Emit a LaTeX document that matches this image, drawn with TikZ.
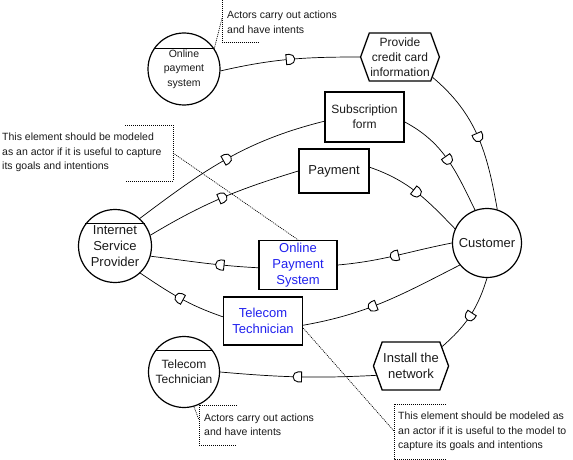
\documentclass[tikz,border=0pt]{standalone}
\usepackage{fontspec}
\setmainfont{Liberation Sans}
\usetikzlibrary{shapes.symbols,decorations.markings}

\definecolor{txt}{HTML}{1A1A1A}
\definecolor{bluetxt}{HTML}{2020EE}
\newcommand{\bigtxt}{\fontsize{13}{16}\selectfont}
\newcommand{\midtxt}{\fontsize{12}{15}\selectfont}
\newcommand{\smalltxt}{\fontsize{10.5}{14.5}\selectfont}
% the D of a dependency, round side forward
\newcommand{\dsym}{\draw[fill=white,line width=0.9pt] (-3.5pt,-5pt) -- (-3.5pt,5pt) -- (0pt,5pt) arc[start angle=90,end angle=-90,radius=5pt] -- cycle;}

\begin{document}
\begin{tikzpicture}[x=1pt,y=1pt,
	actor/.style={circle,draw,line width=1.2pt,inner sep=0pt,align=center,text=txt},
	res/.style={rectangle,draw,line width=1.4pt,inner sep=1pt,align=center,text=txt},
	goal/.style={signal,signal to=east and west,signal pointer angle=140,draw,line width=1.3pt,inner sep=1pt,align=center,text=txt},
	dep/.style={line width=0.7pt,postaction={decorate},decoration={markings,mark=at position #1 with {\dsym}}},
	dep/.default=0.5,
	note/.style={anchor=west,inner sep=0pt,align=left,font=\smalltxt,text=txt},
	dots/.style={line width=0.7pt,dash pattern=on 1pt off 1pt}]
	\useasboundingbox (0,0) rectangle (573,-460);

	% actors
	\node[actor,minimum size=72pt,font=\smalltxt] (OPSA) at (184,-69) {Online\\payment\\system};
	\node[actor,minimum size=73pt,font=\bigtxt] (ISP) at (115,-246) {Internet\\Service\\Provider};
	\node[actor,minimum size=69pt,font=\bigtxt] (CU) at (487,-243) {Customer};
	\node[actor,minimum size=71pt,font=\midtxt] (TTA) at (184,-372) {Telecom\\Technician};
	\draw[line width=1.2pt] (OPSA.146) -- (OPSA.34);
	\draw[line width=1.2pt] (ISP.143) -- (ISP.37);
	\draw[line width=1.2pt] (TTA.143) -- (TTA.37);

	% goals and resources
	\node[goal,minimum width=77pt,minimum height=48pt,font=\midtxt] (PCC) at (400,-57) {Provide\\credit card\\information};
	\node[goal,minimum width=75pt,minimum height=48pt,font=\bigtxt] (INS) at (411,-366) {Install the\\network};
	\node[res,minimum width=79pt,minimum height=50pt,font=\midtxt] (SF) at (364.5,-117) {Subscription\\form};
	\node[res,minimum width=70pt,minimum height=44pt,font=\bigtxt] (PAY) at (334,-171) {Payment};
	\node[res,minimum width=78pt,minimum height=49pt,font=\bigtxt,text=bluetxt] (OPS) at (298,-265) {Online\\Payment\\System};
	\node[res,minimum width=79pt,minimum height=48pt,font=\bigtxt,text=bluetxt] (TT) at (263,-321) {Telecom\\Technician};

	% dependencies
	\draw[dep] (OPSA.-3) to[out=13,in=180] (PCC.west);
	\draw[dep] (PCC.-32) to[out=-40,in=100] (CU.73);
	\draw[dep] (ISP.48) to[out=37,in=194] (SF.186);
	\draw[dep] (SF.-7) to[out=-28,in=116] (CU.110);
	\draw[dep] (ISP.17) to[out=31,in=197] (PAY.west);
	\draw[dep] (PAY.6) to[out=-19,in=134] (CU.156);
	\draw[dep] (CU.west) to[out=191,in=5] (OPS.east);
	\draw[dep=0.35] (OPS.184) to[out=177,in=-7] (ISP.-16);
	\draw[dep=0.57] (CU.219) to[out=207,in=10] (TT.-6);
	\draw[dep] (TT.174) to[out=161,in=-34] (ISP.-47);
	\draw[dep] (CU.270) to[out=253,in=41] (INS.32);
	\draw[dep] (INS.195) to[out=183,in=-5] (TTA.0);

	% notes
	\node[note] (N1) at (227,-22) {Actors carry out actions\\and have intents};
	\draw[dots] (259,1) -| (222,-42.5) -- (259,-42.5);
	\coordinate (N1c) at (222,-18);
	\draw[dots] (OPSA.34) -- (N1c);

	\node[note] (N2) at (204,-424.5) {Actors carry out actions\\and have intents};
	\draw[dots] (237,-405) -| (199,-445) -- (237,-445);
	\coordinate (N2c) at (199,-420);
	\draw[dots] (TTA.-74) -- (N2c);

	\node[note] (N3) at (2,-152.5) {This element should be modeled\\as an actor if it is useful to capture\\its goals and intentions};
	\draw[dots] (125,-125) -| (173,-181) -- (125,-181);
	\coordinate (N3c) at (173,-153);
	\draw[dots] (N3c) -- (OPS.north);

	\node[note] (N4) at (398,-431.5) {This element should be modeled as\\an actor if it is useful to the model to\\capture its goals and intentions};
	\draw[dots] (446,-404) -| (394,-459) -- (446,-459);
	\coordinate (N4c) at (394,-431);
	\draw[dots] (TT.-10) -- (N4c);
\end{tikzpicture}
\end{document}
